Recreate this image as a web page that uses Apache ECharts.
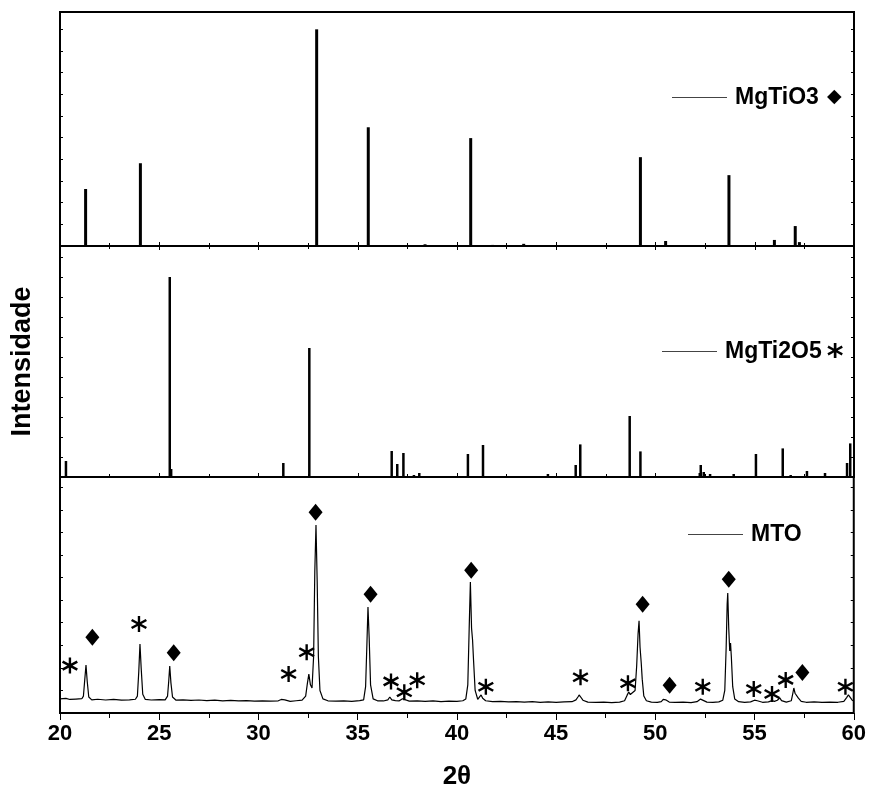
<!DOCTYPE html>
<html>
<head>
<meta charset="utf-8">
<script src="https://cdn.jsdelivr.net/npm/echarts@6/dist/echarts.min.js"></script>
<style>
  html, body { margin: 0; padding: 0; background: #fff; }
  #chart { width: 869px; height: 797px; }
</style>
</head>
<body>
<div id="chart"></div>
<script>
// reference stick patterns (2theta, relative intensity)
var mgtio3Pos = [21.29, 24.05, 32.93, 35.53, 38.39, 40.69, 41.8, 43.36, 49.24, 50.51, 53.70, 55.99, 57.04, 57.25];
var mgtio3Int = [26.3, 38.2, 100, 54.8, 0.8, 49.8, 0.5, 1.0, 41.0, 2.3, 32.7, 2.8, 9.2, 1.8];

var mgti2o5Pos = [20.30, 25.53, 25.60, 27.09, 31.25, 32.56, 36.71, 36.99, 37.30, 37.83, 38.10, 40.55, 41.04, 41.31,
  44.58, 45.98, 46.21, 48.70, 49.24, 52.23, 52.28, 52.43, 52.75, 53.06, 53.31, 53.94, 55.06, 55.80, 56.41,
  56.81, 57.63, 58.54, 59.65, 59.81];
var mgti2o5Int = [8, 100, 4, 0.5, 7, 64.5, 13, 6.5, 12, 1, 2, 11.5, 0.5, 16,
  1.5, 6, 16.3, 30.5, 12.8, 2, 6, 2.5, 1.5, 0.5, 0.5, 1.5, 11.5, 0.5, 14.3,
  1, 3, 2, 7, 16.8];

var mtoScan = [
  [20.0, 7.5], [20.3, 7.8], [20.5, 7.2], [20.8, 7.4], [21.1, 7.6],
  [21.18, 9], [21.25, 18], [21.31, 25.5], [21.37, 17], [21.45, 8.5], [21.6, 7.0],
  [21.9, 7.3], [22.3, 6.9], [22.7, 7.2], [23.1, 6.8], [23.5, 7.0], [23.8, 7.3],
  [23.9, 9], [23.97, 22], [24.03, 36.7], [24.09, 24], [24.17, 10], [24.3, 7.2],
  [24.6, 6.9], [25.0, 7.1], [25.3, 7.0],
  [25.42, 9], [25.48, 17], [25.53, 25], [25.59, 16], [25.67, 8.5], [25.85, 6.8],
  [26.2, 7.0], [26.6, 6.7], [27.0, 6.9], [27.4, 6.6], [27.8, 6.8], [28.2, 6.5], [28.6, 6.7],
  [29.0, 6.4], [29.4, 6.6], [29.8, 6.3], [30.2, 6.5], [30.6, 6.3], [31.0, 6.5],
  [31.15, 7.2], [31.24, 8.0], [31.33, 7.0], [31.6, 6.2], [31.9, 6.5], [32.2, 6.8],
  [32.38, 9], [32.47, 16], [32.54, 20.7], [32.62, 15], [32.7, 13.3],
  [32.78, 30], [32.84, 75], [32.90, 100], [32.96, 70], [33.02, 30], [33.1, 12], [33.25, 7.5], [33.5, 6.5],
  [33.9, 6.3], [34.3, 6.5], [34.7, 6.2], [35.1, 6.6], [35.3, 7.0],
  [35.4, 14], [35.47, 38], [35.52, 56.4], [35.58, 40], [35.65, 15], [35.78, 7.5], [36.0, 6.5], [36.3, 6.4],
  [36.52, 7], [36.62, 8.5], [36.72, 7.0], [36.9, 6.6], [37.1, 6.5],
  [37.2, 7.2], [37.26, 7.6], [37.34, 6.7],
  [37.6, 6.3], [38.0, 6.5], [38.4, 6.2], [38.8, 6.4], [39.2, 6.1], [39.6, 6.3], [40.0, 6.2], [40.3, 6.5], [40.45, 7.5],
  [40.55, 15], [40.62, 45], [40.68, 69.7], [40.74, 45], [40.79, 38.8], [40.84, 28], [40.92, 12], [41.05, 7.3],
  [41.15, 8.2], [41.22, 9.6], [41.3, 7.8], [41.45, 6.5],
  [41.8, 6.0], [42.2, 6.2], [42.6, 5.9], [43.0, 6.1], [43.4, 5.8], [43.8, 6.0], [44.2, 5.7], [44.6, 5.9],
  [45.0, 5.7], [45.4, 5.9], [45.8, 6.0], [46.0, 7.0],
  [46.1, 8.5], [46.16, 9.6], [46.24, 8.5], [46.35, 6.8], [46.6, 5.8],
  [47.0, 5.6], [47.4, 5.8], [47.8, 5.5], [48.2, 5.8], [48.45, 6.5],
  [48.58, 9.5], [48.66, 11.2], [48.74, 9.8], [48.84, 8.8],
  [48.98, 12], [49.06, 25], [49.13, 42], [49.18, 49], [49.23, 35], [49.29, 26.6], [49.34, 18], [49.42, 9],
  [49.55, 6.5], [49.8, 5.8], [50.1, 5.7], [50.3, 6.0],
  [50.4, 7.2], [50.45, 8.0], [50.52, 7.0], [50.7, 5.8],
  [51.0, 5.6], [51.4, 5.8], [51.8, 5.5], [52.1, 6.0],
  [52.2, 6.8], [52.28, 7.4], [52.36, 6.7], [52.6, 5.8],
  [52.9, 5.6], [53.2, 5.9], [53.4, 6.8],
  [53.5, 12], [53.57, 35], [53.62, 58], [53.65, 63.8], [53.7, 45], [53.75, 33], [53.79, 37.2], [53.83, 30],
  [53.9, 14], [54.0, 7.5], [54.2, 6.0], [54.5, 5.7], [54.8, 5.9],
  [55.0, 6.8], [55.06, 7.4], [55.14, 6.5], [55.4, 5.7], [55.7, 5.9],
  [55.88, 6.6], [55.93, 6.9], [56.0, 6.2], [56.15, 6.8],
  [56.27, 8.0], [56.36, 6.6], [56.6, 5.8], [56.85, 6.5],
  [56.93, 10.5], [56.98, 13.3], [57.04, 10.5], [57.09, 10], [57.13, 10.6], [57.2, 8], [57.35, 6.2],
  [57.6, 5.7], [58.0, 5.9], [58.4, 5.6], [58.8, 5.8], [59.2, 5.7], [59.5, 6.2],
  [59.64, 8.2], [59.73, 9.6], [59.82, 8.3], [59.92, 6.8], [60.0, 6.4]
];

// phase markers drawn above the MTO scan
var diamondMarks = [[21.63, 40.3], [25.73, 32.1], [32.88, 106.8], [35.65, 63.1], [40.72, 75.9],
  [49.36, 57.8], [50.72, 14.7], [53.70, 71.1], [57.41, 21.6]];
var asteriskMarks = [[20.50, 25.2], [23.98, 47.3], [31.52, 20.7], [32.43, 32.3], [36.68, 16.8],
  [37.35, 11.0], [38.0, 17.4], [41.46, 14.0], [46.23, 19.0], [48.62, 15.8], [52.39, 14.0],
  [54.96, 12.8], [55.88, 10.1], [56.57, 17.6], [59.58, 14.0]];

// six-armed asterisk, three crossing bars
var asteriskPath = 'path://M8.6 0L11.4 0L11.4 20L8.6 20Z M0.59 6.3L2.09 3.7L19.41 13.7L17.91 16.3Z M2.09 16.3L0.59 13.7L17.91 3.7L19.41 6.3Z';

function zip(a, b) {
  var out = [];
  for (var i = 0; i < a.length; i++) out.push([a[i], b[i]]);
  return out;
}

var boldFont = 'Liberation Sans, Arial, sans-serif';

var chart = echarts.init(document.getElementById('chart'), null, { renderer: 'canvas' });

function panelGrid(top, height) {
  return { left: 60, right: 15, top: top, height: height, show: true,
    borderColor: '#000', borderWidth: 2, backgroundColor: 'transparent' };
}

function plainX(gridIndex, pos, inside) {
  return {
    type: 'value', gridIndex: gridIndex, position: pos, min: 20, max: 60, interval: 5,
    axisLine: { show: false },
    axisTick: { show: true, inside: inside, length: inside ? 4 : 7, lineStyle: { color: '#000', width: 1 } },
    minorTick: { show: true, splitNumber: 2, length: inside ? 3 : 5, lineStyle: { color: '#000', width: 1 } },
    axisLabel: { show: false },
    splitLine: { show: false }
  };
}

function plainY(gridIndex, pos, max, interval) {
  return {
    type: 'value', gridIndex: gridIndex, position: pos, min: 0, max: max, interval: interval,
    axisLine: { show: false },
    axisTick: { show: true, inside: true, length: 3, lineStyle: { color: '#000' } },
    axisLabel: { show: false },
    splitLine: { show: false }
  };
}

var xBottom = plainX(2, 'bottom', false);
xBottom.axisLabel = { show: true, fontFamily: boldFont, fontWeight: 'bold', fontSize: 22, color: '#000', margin: 10 };
xBottom.name = '2\u03b8';
xBottom.nameLocation = 'middle';
xBottom.nameGap = 51;
xBottom.nameTextStyle = { fontFamily: boldFont, fontWeight: 'bold', fontSize: 26, color: '#000' };

var yMid = plainY(1, 'left', 115.5, 10);
yMid.name = 'Intensidade';
yMid.nameLocation = 'middle';
yMid.nameRotate = 90;
yMid.nameGap = 24;
yMid.nameTextStyle = { fontFamily: boldFont, fontWeight: 'bold', fontSize: 27, color: '#000' };

function legendBox(name, left, top, suffix) {
  return {
    data: [name], left: left, top: top, icon: 'rect', itemWidth: 55, itemHeight: 1, itemGap: 0,
    selectedMode: false,
    itemStyle: { color: '#444' },
    formatter: function (n) { return '{n|' + n + '}' + suffix; },
    textStyle: {
      rich: {
        n: { fontFamily: boldFont, fontWeight: 'bold', fontSize: 23, color: '#000', padding: [0, 0, 0, 3] },
        d: { fontFamily: 'DejaVu Sans', fontSize: 19, color: '#000', padding: [0, 0, 0, 8] },
        a: { fontFamily: 'DejaVu Sans', fontWeight: 'bold', fontSize: 32, color: '#000', padding: [12, 0, 0, 5] }
      }
    }
  };
}

var option = {
  backgroundColor: '#fff',
  animation: false,
  grid: [panelGrid(12, 234), panelGrid(246, 231), panelGrid(477, 236)],
  xAxis: [plainX(0, 'bottom', true), plainX(0, 'top', true), plainX(1, 'bottom', true), xBottom],
  yAxis: [
    plainY(0, 'left', 108, 10), plainY(0, 'right', 108, 10),
    yMid, plainY(1, 'right', 115.5, 10),
    plainY(2, 'left', 125.5, 12), plainY(2, 'right', 125.5, 12)
  ],
  legend: [
    legendBox('MgTiO3', 667, 81, '{d|\u25c6}'),
    legendBox('MgTi2O5', 657, 335, '{a|*}'),
    legendBox('MTO', 683, 518, '')
  ],
  series: [
    {
      name: 'MgTiO3', type: 'bar', xAxisIndex: 0, yAxisIndex: 0,
      data: zip(mgtio3Pos, mgtio3Int), barWidth: 3,
      itemStyle: { color: '#000' }
    },
    {
      name: 'MgTi2O5', type: 'bar', xAxisIndex: 2, yAxisIndex: 2,
      data: zip(mgti2o5Pos, mgti2o5Int), barWidth: 2.5,
      itemStyle: { color: '#000' }
    },
    {
      name: 'MTO', type: 'line', xAxisIndex: 3, yAxisIndex: 4,
      data: mtoScan, showSymbol: false, symbol: 'none',
      lineStyle: { color: '#000', width: 1.2 }, itemStyle: { color: '#000' }
    },
    {
      name: 'diamonds', type: 'scatter', xAxisIndex: 3, yAxisIndex: 4,
      data: diamondMarks, symbol: 'diamond', symbolSize: [14, 17],
      itemStyle: { color: '#000', opacity: 1 }
    },
    {
      name: 'asterisks', type: 'scatter', xAxisIndex: 3, yAxisIndex: 4,
      data: asteriskMarks, symbol: asteriskPath, symbolSize: 16,
      itemStyle: { color: '#000', opacity: 1 }
    }
  ]
};

chart.setOption(option);
</script>
</body>
</html>
